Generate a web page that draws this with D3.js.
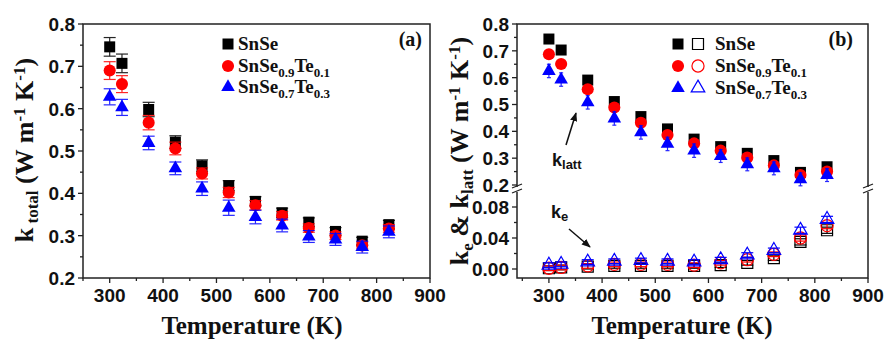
<!DOCTYPE html>
<head>
    <meta charset="utf-8">
    <title>SnSe thermal conductivity</title>
    <style>
        body { margin: 0; background: #fff; }
        .tick-label { font-family: "Liberation Sans", Arial, sans-serif; font-weight: bold; font-size: 19px; fill: #111; }
        .serif { font-family: "Liberation Serif", "Times New Roman", serif; font-weight: bold; fill: #111; }
    </style>
</head>
<body>

<script src="https://d3js.org/d3.v7.min.js"></script>

<script>
// temperatures (K)
let temps = [300, 323, 373, 423, 473, 523, 573, 623, 673, 723, 773, 823];

// (a) total thermal conductivity
let kTotSnSe = [0.746, 0.707, 0.598, 0.521, 0.465, 0.418, 0.381, 0.354, 0.332, 0.310, 0.287, 0.326];
let kTotTe01 = [0.690, 0.658, 0.567, 0.506, 0.447, 0.402, 0.372, 0.347, 0.318, 0.300, 0.277, 0.317];
let kTotTe03 = [0.628, 0.603, 0.519, 0.459, 0.411, 0.366, 0.344, 0.324, 0.298, 0.291, 0.273, 0.309];
let errTotSnSe = [0.022, 0.022, 0.017, 0.015, 0.014, 0.012, 0.011, 0.011, 0.010, 0.009, 0.009, 0.010];
let errTotTe01 = [0.021, 0.020, 0.017, 0.015, 0.013, 0.012, 0.011, 0.010, 0.010, 0.009, 0.008, 0.009];
let errTotTe03 = [0.019, 0.019, 0.016, 0.015, 0.016, 0.018, 0.016, 0.015, 0.014, 0.014, 0.014, 0.014];

// (b) lattice thermal conductivity
let kLatSnSe = [0.744, 0.703, 0.591, 0.511, 0.455, 0.409, 0.371, 0.343, 0.318, 0.291, 0.247, 0.268];
let kLatTe01 = [0.687, 0.651, 0.557, 0.489, 0.432, 0.386, 0.355, 0.328, 0.302, 0.273, 0.237, 0.250];
let kLatTe03 = [0.625, 0.593, 0.508, 0.448, 0.396, 0.353, 0.328, 0.308, 0.277, 0.262, 0.221, 0.237];
let errLatSnSe = [0.012, 0.012, 0.012, 0.011, 0.011, 0.012, 0.011, 0.011, 0.010, 0.010, 0.010, 0.010];
let errLatTe01 = [0.012, 0.012, 0.012, 0.012, 0.013, 0.013, 0.012, 0.012, 0.011, 0.011, 0.011, 0.011];
let errLatTe03 = [0.025, 0.025, 0.025, 0.025, 0.025, 0.025, 0.025, 0.024, 0.024, 0.024, 0.024, 0.024];

// (b) electronic thermal conductivity
let kESnSe = [0.001, 0.002, 0.003, 0.004, 0.004, 0.004, 0.004, 0.005, 0.008, 0.014, 0.035, 0.050];
let kETe01 = [0.001, 0.002, 0.004, 0.006, 0.006, 0.006, 0.005, 0.008, 0.012, 0.019, 0.040, 0.056];
let kETe03 = [0.005, 0.006, 0.009, 0.010, 0.011, 0.010, 0.009, 0.012, 0.018, 0.024, 0.050, 0.064];
let errE = [0.003, 0.003, 0.003, 0.003, 0.003, 0.003, 0.003, 0.003, 0.003, 0.003, 0.004, 0.004];

// tick labels
let xTicks = [300, 400, 500, 600, 700, 800, 900];
let xMinor = [250, 350, 450, 550, 650, 750, 850];
let yTicksA = [0.2, 0.3, 0.4, 0.5, 0.6, 0.7, 0.8];
let yMinorA = [0.25, 0.35, 0.45, 0.55, 0.65, 0.75];
let yTicksBot = [0.00, 0.04, 0.08];
let yMinorBot = [0.02, 0.06];

let width = 885;
let height = 343;
let svg = d3.select("body").append("svg")
    .attr("width", width)
    .attr("height", height);

let black = "#000000", red = "#ff0000", blue = "#0000ff";

let sym = {
    square: d3.symbol().type(d3.symbolSquare).size(121)(),
    circle: d3.symbol().type(d3.symbolCircle).size(115)(),
    triangle: d3.symbol().type(d3.symbolTriangle).size(80)()
};

// scales
let xA = d3.scaleLinear().domain([250, 900]).range([83, 430]);
let yA = d3.scaleLinear().domain([0.2, 0.8]).range([278, 24]);
let xB = d3.scaleLinear().domain([240, 900]).range([517, 868]);
let yBTop = d3.scaleLinear().domain([0.2, 0.8]).range([185, 24]);
let yBBot = d3.scaleLinear().domain([0, 0.08]).range([269, 207]);

function drawXAxis(x, top, bottom) {
    let g = svg.append("g");
    g.selectAll(".major").data(xTicks).join("line")
        .attr("x1", d => x(d)).attr("x2", d => x(d))
        .attr("y1", bottom).attr("y2", bottom + 5)
        .attr("stroke", "#222").attr("stroke-width", 1.3);
    g.selectAll(".minor").data(xMinor).join("line")
        .attr("x1", d => x(d)).attr("x2", d => x(d))
        .attr("y1", bottom).attr("y2", bottom + 3)
        .attr("stroke", "#222").attr("stroke-width", 1.3);
    g.selectAll("text").data(xTicks).join("text")
        .attr("class", "tick-label")
        .attr("x", d => x(d))
        .attr("y", bottom + 24)
        .attr("text-anchor", "middle")
        .text(d => d);
}

function drawYTicks(y, left, majors, minors, fmt) {
    let g = svg.append("g");
    g.selectAll(".major").data(majors).join("line")
        .attr("x1", left - 5).attr("x2", left)
        .attr("y1", d => y(d)).attr("y2", d => y(d))
        .attr("stroke", "#222").attr("stroke-width", 1.3);
    g.selectAll(".minor").data(minors).join("line")
        .attr("x1", left - 3).attr("x2", left)
        .attr("y1", d => y(d)).attr("y2", d => y(d))
        .attr("stroke", "#222").attr("stroke-width", 1.3);
    g.selectAll("text").data(majors).join("text")
        .attr("class", "tick-label")
        .attr("x", left - 8)
        .attr("y", d => y(d))
        .attr("dy", "0.36em")
        .attr("text-anchor", "end")
        .text(d => fmt(d));
}

// draw one series: markers + error bars
function drawSeries(x, y, vals, errs, shape, color, filled, capW) {
    let g = svg.append("g");
    let pts = temps.map((t, i) => ({ t: t, v: vals[i], e: errs[i] }));
    g.selectAll("path").data(pts).join("path")
        .attr("d", sym[shape])
        .attr("transform", d => `translate(${x(d.t)},${y(d.v)})`)
        .attr("fill", filled ? color : "none")
        .attr("stroke", color)
        .attr("stroke-width", filled ? 0 : 1.2);
    let eb = g.selectAll(".eb").data(pts).join("g").attr("class", "eb")
        .attr("stroke", color).attr("stroke-width", 1.2).attr("opacity", filled ? 0.85 : 1);
    eb.append("line")
        .attr("x1", d => x(d.t)).attr("x2", d => x(d.t))
        .attr("y1", d => y(d.v - d.e)).attr("y2", d => y(d.v + d.e));
    eb.append("line")
        .attr("x1", d => x(d.t) - capW / 2).attr("x2", d => x(d.t) + capW / 2)
        .attr("y1", d => y(d.v - d.e)).attr("y2", d => y(d.v - d.e));
    eb.append("line")
        .attr("x1", d => x(d.t) - capW / 2).attr("x2", d => x(d.t) + capW / 2)
        .attr("y1", d => y(d.v + d.e)).attr("y2", d => y(d.v + d.e));
}

// ---------------- panel (a) ----------------
drawSeries(xA, yA, kTotSnSe, errTotSnSe, "square", black, true, 12);
drawSeries(xA, yA, kTotTe01, errTotTe01, "circle", red, true, 12);
drawSeries(xA, yA, kTotTe03, errTotTe03, "triangle", blue, true, 12);

svg.append("rect")
    .attr("x", 83).attr("y", 24).attr("width", 430 - 83).attr("height", 278 - 24)
    .attr("fill", "none").attr("stroke", "#222").attr("stroke-width", 1.5);
drawXAxis(xA, 24, 278);
drawYTicks(yA, 83, yTicksA, yMinorA, d3.format(".1f"));

// ---------------- panel (b) ----------------
drawSeries(xB, yBTop, kLatSnSe, errLatSnSe, "square", black, true, 8);
drawSeries(xB, yBTop, kLatTe01, errLatTe01, "circle", red, true, 8);
drawSeries(xB, yBTop, kLatTe03, errLatTe03, "triangle", blue, true, 4);
drawSeries(xB, yBBot, kESnSe, errE, "square", black, false, 12);
drawSeries(xB, yBBot, kETe01, errE, "circle", red, false, 12);
drawSeries(xB, yBBot, kETe03, errE, "triangle", blue, false, 12);

svg.append("rect")
    .attr("x", 517).attr("y", 24).attr("width", 868 - 517).attr("height", 278 - 24)
    .attr("fill", "none").attr("stroke", "#222").attr("stroke-width", 1.5);
drawXAxis(xB, 24, 278);
drawYTicks(yBTop, 517, yTicksA, yMinorA, d3.format(".1f"));
drawYTicks(yBBot, 517, yTicksBot, yMinorBot, d3.format(".2f"));

// axis breaks
[517, 868].forEach(function (bx) {
    svg.append("rect").attr("x", bx - 3).attr("y", 187).attr("width", 6).attr("height", 5).attr("fill", "#fff");
    [186, 191].forEach(function (by) {
        svg.append("line")
            .attr("x1", bx - 5).attr("y1", by + 2).attr("x2", bx + 5).attr("y2", by - 2)
            .attr("stroke", "#222").attr("stroke-width", 1.3);
    });
});

// ---------------- axis titles ----------------
function tempTitle(cx) {
    svg.append("text").attr("class", "serif")
        .attr("x", cx).attr("y", 334)
        .attr("text-anchor", "middle")
        .style("font-size", "25px")
        .text("Temperature (K)");
}
tempTitle(252);
tempTitle(682);

function yTitle(cx, cy, parts) {
    let t = svg.append("text").attr("class", "serif")
        .attr("transform", `translate(${cx},${cy}) rotate(-90)`)
        .attr("text-anchor", "middle")
        .style("font-size", "26px");
    parts.forEach(function (p) {
        let s = t.append("tspan").text(p[0]);
        if (p[1] === "sub") s.style("font-size", "17px").attr("baseline-shift", "-28%");
        if (p[1] === "sup") s.style("font-size", "17px").attr("baseline-shift", "45%");
        if (p[1] === "subsans") s.style("font-size", "17px").attr("baseline-shift", "-28%");
    });
}
yTitle(33, 150, [["k", ""], [" total", "sub"], [" (W m", ""], ["-1", "sup"], [" K", ""], ["-1", "sup"], [")", ""]]);
yTitle(468, 151, [["k", ""], ["e", "sub"], [" & k", ""], ["latt", "sub"], [" (W m", ""], ["-1", "sup"], [" K", ""], ["-1", "sup"], [")", ""]]);

// ---------------- legends ----------------
let legendNames = [
    [["SnSe", ""]],
    [["SnSe", ""], ["0.9", "sub"], ["Te", ""], ["0.1", "sub"]],
    [["SnSe", ""], ["0.7", "sub"], ["Te", ""], ["0.3", "sub"]]
];
let legendShapes = ["square", "circle", "triangle"];
let legendColors = [black, red, blue];

function legend(markerX, openX, textX, rows) {
    legendNames.forEach(function (name, i) {
        let y = rows[i];
        svg.append("path").attr("d", sym[legendShapes[i]])
            .attr("transform", `translate(${markerX},${y})`)
            .attr("fill", legendColors[i]);
        if (openX) {
            svg.append("path").attr("d", sym[legendShapes[i]])
                .attr("transform", `translate(${openX},${y})`)
                .attr("fill", "none").attr("stroke", legendColors[i]).attr("stroke-width", 1.2);
        }
        let t = svg.append("text").attr("class", "serif")
            .attr("x", textX).attr("y", y + 6)
            .style("font-size", "19px");
        name.forEach(function (p) {
            let s = t.append("tspan").text(p[0]);
            if (p[1] === "sub") s.style("font-size", "13px").attr("dy", 5);
            else if (s.node().previousSibling) s.attr("dy", -5);
        });
    });
}
legend(228, null, 238, [44, 66, 87]);
legend(678, 698, 715, [44, 66, 88]);

svg.append("text").attr("class", "serif").attr("x", 422).attr("y", 46)
    .attr("text-anchor", "end").style("font-size", "20px").text("(a)");
svg.append("text").attr("class", "serif").attr("x", 853).attr("y", 46)
    .attr("text-anchor", "end").style("font-size", "20px").text("(b)");

// ---------------- annotations ----------------
svg.append("defs").append("marker")
    .attr("id", "arrow").attr("viewBox", "0 0 10 10")
    .attr("refX", 9).attr("refY", 5)
    .attr("markerWidth", 6).attr("markerHeight", 6)
    .attr("orient", "auto")
    .append("path").attr("d", "M0,1 L10,5 L0,9 z").attr("fill", "#111");

svg.append("line")
    .attr("x1", 566).attr("y1", 145).attr("x2", 576).attr("y2", 113)
    .attr("stroke", "#111").attr("stroke-width", 1.5).attr("marker-end", "url(#arrow)");
svg.append("line")
    .attr("x1", 569).attr("y1", 229).attr("x2", 590).attr("y2", 247)
    .attr("stroke", "#111").attr("stroke-width", 1.5).attr("marker-end", "url(#arrow)");

let kl = svg.append("text").attr("x", 552).attr("y", 166)
    .style("font-family", "Liberation Sans, Arial, sans-serif")
    .style("font-weight", "bold").style("font-size", "18px").attr("fill", "#111");
kl.append("tspan").text("k");
kl.append("tspan").text("latt").style("font-size", "13px").attr("dy", 3);

let ke = svg.append("text").attr("x", 551).attr("y", 218)
    .style("font-family", "Liberation Sans, Arial, sans-serif")
    .style("font-weight", "bold").style("font-size", "18px").attr("fill", "#111");
ke.append("tspan").text("k");
ke.append("tspan").text("e").style("font-size", "13px").attr("dy", 3);
</script>

</body>
